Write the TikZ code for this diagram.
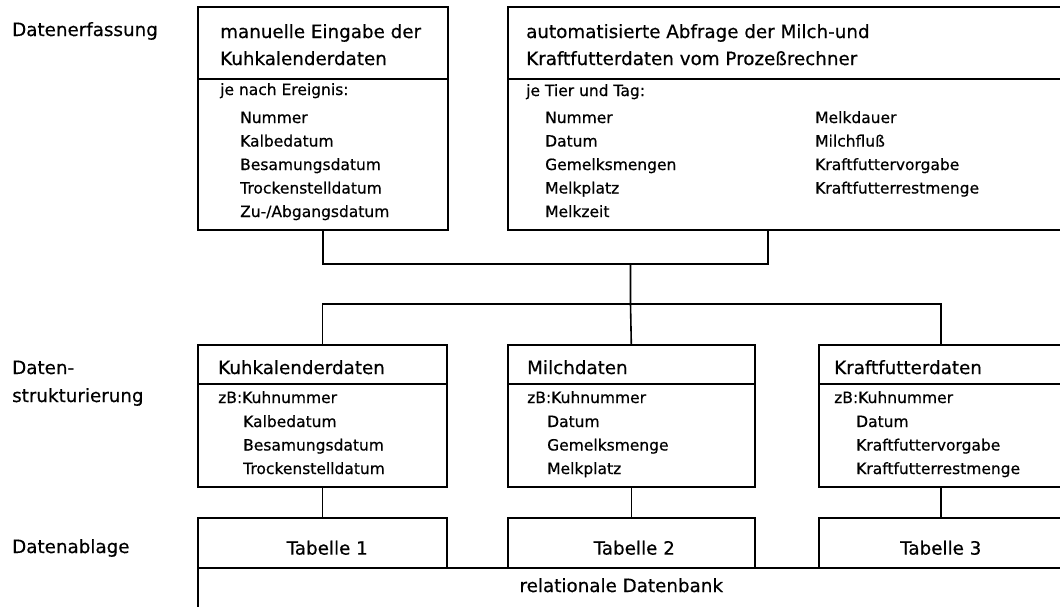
\documentclass[tikz,border=0pt]{standalone}
\usepackage{fontspec}
\setmainfont[FakeBold=0.5]{DejaVu Sans}
\usetikzlibrary{calc}
\begin{document}
\begin{tikzpicture}[x=1pt,y=-1pt,
  frame/.style={draw, line width=1.6pt, inner sep=0pt, anchor=north west},
  wire/.style={line width=1.6pt},
  head/.style={anchor=base west, inner sep=0pt, font=\fontsize{18.3}{22}\selectfont},
  entry/.style={anchor=base west, inner sep=0pt, font=\fontsize{15.5}{19}\selectfont},
  ]
\useasboundingbox (0,0) rectangle (1060,606);
\clip (0,0) rectangle (1060,606);

% stage labels on the left
\node[head] (lErf) at (12,36) {Datenerfassung};
\node[head] (lStr1) at (12,374) {Daten-};
\node[head] (lStr2) at (12,402) {strukturierung};
\node[head] (lAbl) at (12,553) {Datenablage};

% ---- data acquisition ----
\node[frame, minimum width=250pt, minimum height=223pt] (inK) at (197,6) {};
\draw[wire] ($(inK.north west)+(0,73)$) -- ($(inK.north east)+(0,73)$);
\node[head] (inKt1) at (220,38) {manuelle Eingabe der};
\node[head] (inKt2) at (220,65) {Kuhkalenderdaten};
\node[entry] (inKsub) at (220,95) {je nach Ereignis:};
\foreach \t [count=\i] in {Nummer, Kalbedatum, Besamungsdatum, Trockenstelldatum, Zu-/Abgangsdatum}
  \node[entry] (inKi\i) at (240,{99.5+23.5*\i}) {\t};

\node[frame, minimum width=555pt, minimum height=223pt] (inP) at (507,6) {};
\draw[wire] ($(inP.north west)+(0,73)$) -- ($(inP.north east)+(0,73)$);
\node[head] (inPt1) at (526,38) {automatisierte Abfrage der Milch-und};
\node[head] (inPt2) at (526,65) {Kraftfutterdaten vom Prozeßrechner};
\node[entry] (inPsub) at (526,96) {je Tier und Tag:};
\foreach \t [count=\i] in {Nummer, Datum, Gemelksmengen, Melkplatz, Melkzeit}
  \node[entry] (inPa\i) at (545,{99.5+23.5*\i}) {\t};
\foreach \t [count=\i] in {Melkdauer, Milchfluß, Kraftfuttervorgabe, Kraftfutterrestmenge}
  \node[entry] (inPb\i) at (815,{99.5+23.5*\i}) {\t};

% ---- structuring ----
\node[frame, minimum width=249pt, minimum height=142pt] (sK) at (197,344) {};
\node[frame, minimum width=247pt, minimum height=142pt] (sM) at (507,344) {};
\node[frame, minimum width=244pt, minimum height=142pt] (sF) at (818,344) {};
\foreach \b in {sK,sM,sF}
  \draw[wire] ($(\b.north west)+(0,40)$) -- ($(\b.north east)+(0,40)$);

\node[head] (sKt) at (218,374) {Kuhkalenderdaten};
\node[entry] (sKz) at (218,403) {zB:Kuhnummer};
\foreach \t [count=\i] in {Kalbedatum, Besamungsdatum, Trockenstelldatum}
  \node[entry] (sKi\i) at (243,{403.5+23.5*\i}) {\t};

\node[head] (sMt) at (527,374) {Milchdaten};
\node[entry] (sMz) at (527,403) {zB:Kuhnummer};
\foreach \t [count=\i] in {Datum, Gemelksmenge, Melkplatz}
  \node[entry] (sMi\i) at (547,{403.5+23.5*\i}) {\t};

\node[head] (sFt) at (834,374) {Kraftfutterdaten};
\node[entry] (sFz) at (834,403) {zB:Kuhnummer};
\foreach \t [count=\i] in {Datum, Kraftfuttervorgabe, Kraftfutterrestmenge}
  \node[entry] (sFi\i) at (856,{403.5+23.5*\i}) {\t};

% ---- storage ----
\node[frame, minimum width=249pt, minimum height=50pt] (t1) at (197,517) {};
\node[frame, minimum width=247pt, minimum height=50pt] (t2) at (507,517) {};
\node[frame, minimum width=244pt, minimum height=50pt] (t3) at (818,517) {};
\node[frame, minimum width=865pt, minimum height=60pt] (db) at (197,567) {};
\node[head, anchor=base] (t1l) at ($(t1.south)+(5,-14)$) {Tabelle 1};
\node[head, anchor=base] (t2l) at ($(t2.south)+(3,-14)$) {Tabelle 2};
\node[head, anchor=base] (t3l) at ($(t3.south)+(0,-14)$) {Tabelle 3};
\node[head, anchor=base] (dbl) at ($(db.north)+(-9,25)$) {relationale Datenbank};

% ---- connectors ----
\coordinate (pOut) at ($(inP.south west)+(261,0)$);
\coordinate (j) at (630.5,264);
\coordinate (split) at (630.5,304);
\draw[wire] (inK.south) |- (pOut |- j) -- (pOut);
\draw[wire] (j) -- (split) -- (sM.north);
\draw[wire] (sK.north) |- (sF.north |- split) -- (sF.north);
\draw[wire] (sK.south) -- (t1.north);
\draw[wire] (sM.south) -- (t2.north);
\draw[wire] (sF.south) -- (t3.north);
\end{tikzpicture}
\end{document}
